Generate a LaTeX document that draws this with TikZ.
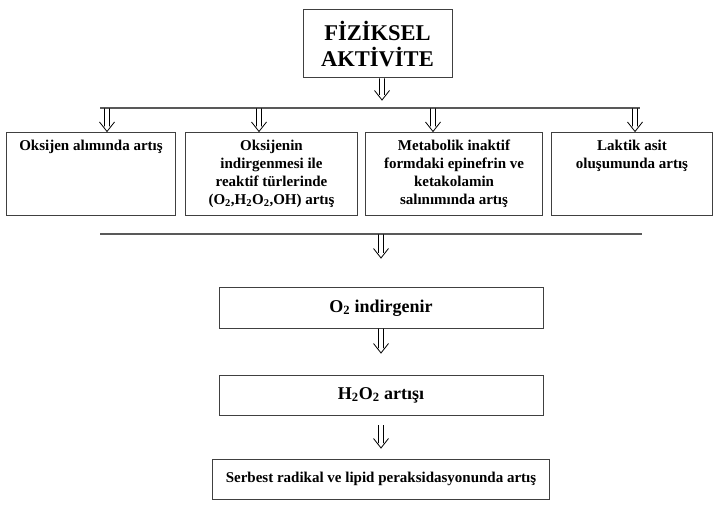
\documentclass[tikz,border=0pt]{standalone}
\usepackage{fontspec}
\setmainfont{Liberation Serif}
\usetikzlibrary{positioning}
\tikzset{
  kutu/.style={draw=black!75, line width=1pt, inner sep=0pt},
  yazi/.style={font=\bfseries\fontsize{15}{18}\selectfont, align=center, inner sep=0pt},
  buyukyazi/.style={font=\bfseries\fontsize{18}{22}\selectfont},
  cizgi/.style={draw=black!65, line width=1.1pt},
  ok/.style={draw=black, line width=0.8pt, to path={
      ([xshift=-2.5pt]\tikztostart) -- ([xshift=-2.5pt,yshift=5pt]\tikztotarget)
      ([xshift=2.5pt]\tikztostart) -- ([xshift=2.5pt,yshift=5pt]\tikztotarget)
      ([xshift=-7.5pt,yshift=9.5pt]\tikztotarget) -- (\tikztotarget) -- ([xshift=7.5pt,yshift=9.5pt]\tikztotarget)}},
}
\begin{document}
\begin{tikzpicture}[x=1pt,y=-1pt]
  \useasboundingbox (0,0) rectangle (714,518);
  \node[kutu, minimum width=149pt, minimum height=68pt, align=center,
        font=\bfseries\fontsize{22.5}{26}\selectfont] (fa) at (377.5,44) {FİZİKSEL\\AKTİVİTE};
  \coordinate (t0) at (382,78.5);
  \coordinate (t1) at (382,100);
  \draw[ok] (t0) to (t1);

  \coordinate (h1a) at (100,108);
  \coordinate (h1b) at (640,108);
  \draw[cizgi] (h1a) -- (h1b);

  \node[kutu, anchor=north west, minimum width=169pt, minimum height=83pt] (e1) at (6,132) {};
  \node[kutu, anchor=north west, minimum width=172pt, minimum height=83pt] (e2) at (185,132) {};
  \node[kutu, anchor=north west, minimum width=177pt, minimum height=83pt] (e3) at (365,132) {};
  \node[kutu, anchor=north west, minimum width=161pt, minimum height=83pt] (e4) at (551,132) {};
  \node[yazi, below=7.5pt of e1.north] (e1t) {Oksijen alımında artış};
  \node[yazi, below=7.5pt of e2.north] (e2t) {Oksijenin\\indirgenmesi ile\\reaktif türlerinde\\(O\textsubscript{2},H\textsubscript{2}O\textsubscript{2},OH) artış};
  \node[yazi, below=7.5pt of e3.north] (e3t) {Metabolik inaktif\\formdaki epinefrin ve\\ketakolamin\\salınımında artış};
  \node[yazi, below=7.5pt of e4.north] (e4t) {Laktik asit\\oluşumunda artış};
  \foreach \x/\k [count=\i] in {107/e1,259/e2,433/e3,635/e4}{
    \coordinate (u\i) at (\x,108.5);
    \coordinate (v\i) at (\x,131.5);
    \draw[ok] (u\i) to (v\i);
  }

  \coordinate (h2a) at (100,234);
  \coordinate (h2b) at (642,234);
  \draw[cizgi] (h2a) -- (h2b);

  \node[kutu, buyukyazi, minimum width=324pt, minimum height=40pt] (o2) at (381,308) {O\textsubscript{2} indirgenir};
  \node[kutu, buyukyazi, minimum width=324pt, minimum height=40pt, below=46pt of o2] (h2o2) {H\textsubscript{2}O\textsubscript{2} artışı};
  \node[kutu, yazi, minimum width=337pt, minimum height=40pt, below=43pt of h2o2] (sr) {Serbest radikal ve lipid peraksidasyonunda artış};

  \coordinate (a0) at (381,234.5);
  \coordinate (a1) at (381,258);
  \coordinate (a2b) at (381,328.5);
  \coordinate (a2) at (381,353);
  \coordinate (a3b) at (381,425);
  \coordinate (a3) at (381,448);
  \draw[ok] (a0) to (a1);
  \draw[ok] (a2b) to (a2);
  \draw[ok] (a3b) to (a3);
\end{tikzpicture}
\end{document}
